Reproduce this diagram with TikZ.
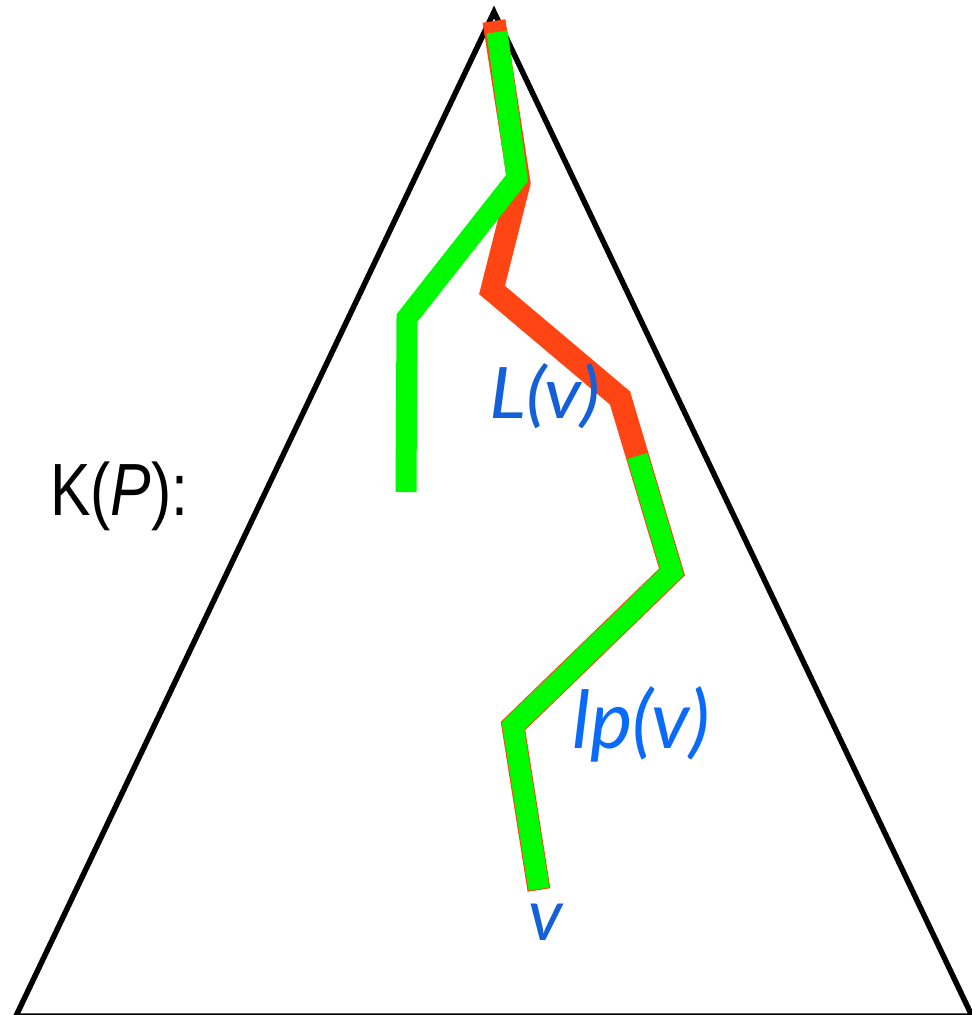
\documentclass[tikz,border=0pt]{standalone}
\usepackage{fontspec}
\setmainfont{Liberation Sans}
\newfontfamily\labfont{Lato}
\usetikzlibrary{calc}
\definecolor{pathred}{RGB}{255,69,20}
\definecolor{pathgreen}{RGB}{0,250,0}
\definecolor{labblue}{RGB}{20,96,216}
\definecolor{lpblue}{RGB}{10,106,250}
\tikzset{
  tri/.style={draw=black, line width=5.5pt, line join=miter},
  redpath/.style={draw=pathred, line width=23pt, line join=miter, line cap=butt},
  greenpath/.style={draw=pathgreen, line width=21pt, line join=miter, line cap=butt},
  lab/.style={inner sep=0pt, anchor=base west}
}
\begin{document}
\begin{tikzpicture}[x=1pt,y=-1pt]
\useasboundingbox (0,0) rectangle (972,1015);
% triangle
\coordinate (apex) at (494,12);
\coordinate (bl) at (16,1016);
\coordinate (br) at (972,1016);
\draw[tri] (apex) -- (br) -- (bl) -- cycle;
% red path
\coordinate (r1) at (494,21);
\coordinate (r2) at (519,183);
\coordinate (r3) at (492,290);
\coordinate (r4) at (620,398);
\coordinate (r5) at (672,572);
\coordinate (r6) at (513,726);
\coordinate (r7) at (539,890);
\draw[redpath] (r1) -- (r2) -- (r3) -- (r4) -- (r5) -- (r6) -- (r7);
% green path 1
\coordinate (g1) at (497,32);
\coordinate (g2) at (517,178);
\coordinate (g3) at (407,318);
\coordinate (g4) at (406,492);
\draw[greenpath] (g1) -- (g2) -- (g3) -- (g4);
% green path 2
\coordinate (h1) at ($(r4)!0.333!(r5)$);
\draw[greenpath] (h1) -- (r5) -- (r6) -- ($(r7)+(0,-1)$);
% labels
\node[lab, text=labblue, font=\labfont\itshape\fontsize{71}{85}\selectfont] (Lv) at (489,418) {\scalebox{1.09}[1]{L(v)}};
\node[lab, text=lpblue, font=\labfont\itshape\fontsize{80}{96}\selectfont] (lpv) at (572,748) {lp(v)};
\node[lab, text=labblue, font=\labfont\itshape\fontsize{72}{86}\selectfont] (v) at (528,940) {v};
\node[lab, font=\fontsize{74}{88}\selectfont] (KP) at (50,515) {\scalebox{0.82}[1]{K(\textit{P}):}};
\end{tikzpicture}
\end{document}
